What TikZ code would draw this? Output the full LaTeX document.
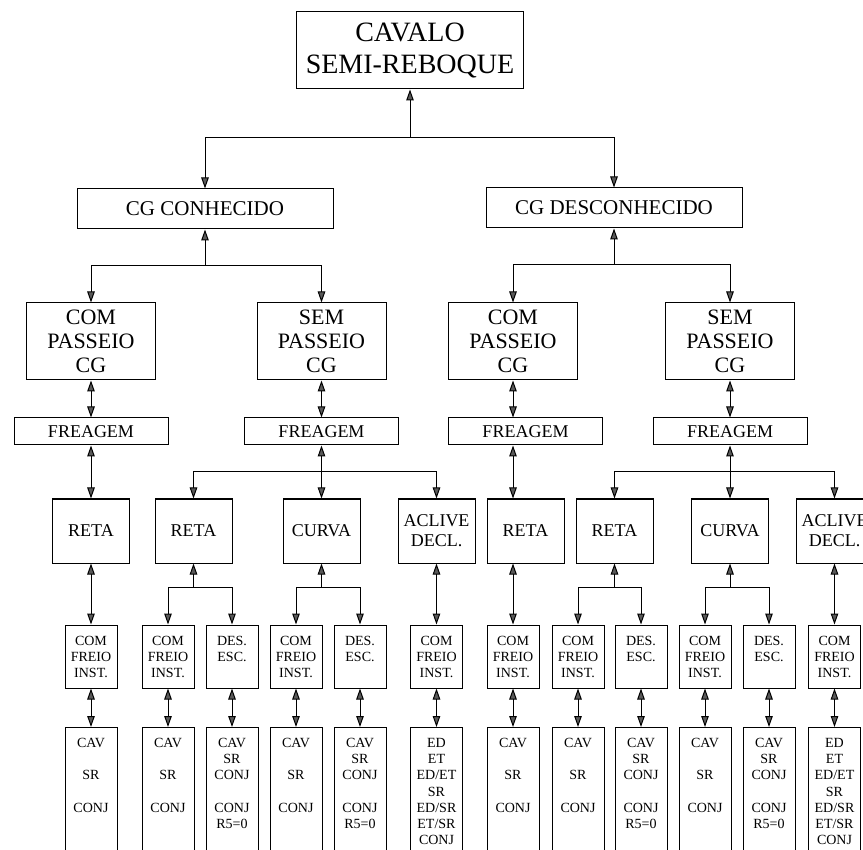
\documentclass[tikz,border=0pt]{standalone}
\usepackage{fontspec}
\setmainfont{Liberation Serif}
\usetikzlibrary{arrows.meta}

\tikzset{
  caixa/.style={draw, line width=1pt, inner sep=1pt, align=center},
  seta/.style={line width=1pt, -{Triangle[length=11pt,width=7.5pt,fill=black!65]}},
  seta2/.style={line width=1pt, {Triangle[length=11pt,width=7.5pt,fill=black!65]}-{Triangle[length=11pt,width=7.5pt,fill=black!65]}},
  medio/.style={caixa, minimum width=129pt, minimum height=77pt, font=\fontsize{22}{24}\selectfont},
  frea/.style={caixa, minimum width=154pt, minimum height=27pt, font=\fontsize{18}{20}\selectfont},
  via/.style={caixa, minimum width=77pt, minimum height=64pt, font=\fontsize{18}{20}\selectfont},
  freio/.style={caixa, minimum width=52pt, minimum height=63pt, font=\fontsize{14}{16}\selectfont},
  folhabox/.style={draw, line width=1pt, anchor=north, inner xsep=1pt, inner ysep=10.5pt, font=\fontsize{14}{16.3}\selectfont}
}

\newcommand{\folha}[1]{\parbox[t][140pt][t]{50pt}{\centering #1}}
\newcommand{\comfreio}{COM\\FREIO\\INST.}
\newcommand{\desesc}{DES.\\ESC.\\\phantom{INST.}}
\newcommand{\folhaA}{\folha{CAV\\[16.3pt]SR\\[16.3pt]CONJ}}
\newcommand{\folhaB}{\folha{CAV\\SR\\CONJ\\[16.3pt]CONJ\\R5=0}}
\newcommand{\folhaC}{\folha{ED\\ET\\ED/ET\\SR\\ED/SR\\ET/SR\\CONJ}}

\begin{document}
\begin{tikzpicture}[x=1pt, y=-1pt]
  \useasboundingbox (0,0) rectangle (863,850);

  % Topo
  \node[caixa, minimum width=227pt, minimum height=77pt, font=\fontsize{28}{32}\selectfont] (topo) at (410,50.5) {CAVALO\\SEMI-REBOQUE};
  \node[caixa, minimum width=256pt, minimum height=40pt, font=\fontsize{21}{24}\selectfont] (cgc) at (205,209) {CG CONHECIDO};
  \node[caixa, minimum width=256pt, minimum height=40pt, font=\fontsize{21}{24}\selectfont] (cgd) at (614,208) {CG DESCONHECIDO};

  \coordinate (j0) at (410,138);
  \draw[seta] (j0) -- (topo);
  \draw[seta] (j0) -| (cgc);
  \draw[seta] (j0) -| (cgd);

  % Passeio CG
  \node[medio] (cp1) at (91,341.5) {COM\\PASSEIO\\CG};
  \node[medio] (sp1) at (321.5,341.5) {SEM\\PASSEIO\\CG};
  \node[medio] (cp2) at (513,341.5) {COM\\PASSEIO\\CG};
  \node[medio] (sp2) at (730,341.5) {SEM\\PASSEIO\\CG};

  \coordinate (j1) at (205,266);
  \coordinate (j2) at (614,265);
  \draw[seta] (j1) -- (cgc);
  \draw[seta] (j1) -| (cp1);
  \draw[seta] (j1) -| (sp1);
  \draw[seta] (j2) -- (cgd);
  \draw[seta] (j2) -| (cp2);
  \draw[seta] (j2) -| (sp2);

  % Freagem
  \node[frea] (fr1) at (91,431.5) {FREAGEM};
  \node[frea] (fr2) at (321.5,431.5) {FREAGEM};
  \node[frea] (fr3) at (525.5,431.5) {FREAGEM};
  \node[frea] (fr4) at (730,431.5) {FREAGEM};

  \draw[seta2] (cp1) -- (fr1);
  \draw[seta2] (sp1) -- (fr2);
  \draw[seta2] (cp2.south) -- (cp2.south |- fr3.north);
  \draw[seta2] (sp2) -- (fr4);

  % Reta, curva, aclive
  \node[via] (re1) at (91,531) {RETA};
  \node[via] (re2) at (193.5,531) {RETA};
  \node[via] (cu1) at (321.5,531) {CURVA};
  \node[via] (ac1) at (436.5,531) {ACLIVE\\DECL.};
  \node[via] (re3) at (525.5,531) {RETA};
  \node[via] (re4) at (614.5,531) {RETA};
  \node[via] (cu2) at (730,531) {CURVA};
  \node[via] (ac2) at (834.5,531) {ACLIVE\\DECL.};

  \draw[seta2] (fr1) -- (re1);
  \draw[seta2] (fr2) -- (cu1);
  \draw[seta2] (fr3.south -| cp2) -- (re3.north -| cp2);
  \draw[seta2] (fr4) -- (cu2);
  \coordinate (j3) at (321.5,472);
  \coordinate (j4) at (730,472);
  \draw[seta] (j3) -| (re2);
  \draw[seta] (j3) -| (ac1);
  \draw[seta] (j4) -| (re4);
  \draw[seta] (j4) -| (ac2);

  % Freio / desacoplamento e resultados
  \foreach \x/\txt/\res [count=\i] in {91/\comfreio/\folhaA, 168/\comfreio/\folhaA,
      232/\desesc/\folhaB, 296/\comfreio/\folhaA, 360/\desesc/\folhaB,
      436.5/\comfreio/\folhaC, 513/\comfreio/\folhaA, 578/\comfreio/\folhaA,
      641/\desesc/\folhaB, 705/\comfreio/\folhaA, 769/\desesc/\folhaB,
      834.5/\comfreio/\folhaC} {
    \node[freio] (b\i) at (\x,656.5) {\txt};
    \node[folhabox] (f\i) at (\x,727) {\res};
    \draw[seta2] (b\i) -- (f\i);
  }

  \draw[seta2] (re1) -- (b1);
  \draw[seta2] (ac1) -- (b6);
  \draw[seta2] (re3.south -| b7) -- (b7);
  \draw[seta2] (ac2) -- (b12);
  \coordinate (j5) at (193.5,587);
  \coordinate (j6) at (321.5,587);
  \coordinate (j7) at (614.5,587);
  \coordinate (j8) at (730,587);
  \draw[seta] (j5) -- (re2);
  \draw[seta] (j5) -| (b2);
  \draw[seta] (j5) -| (b3);
  \draw[seta] (j6) -- (cu1);
  \draw[seta] (j6) -| (b4);
  \draw[seta] (j6) -| (b5);
  \draw[seta] (j7) -- (re4);
  \draw[seta] (j7) -| (b8);
  \draw[seta] (j7) -| (b9);
  \draw[seta] (j8) -- (cu2);
  \draw[seta] (j8) -| (b10);
  \draw[seta] (j8) -| (b11);
\end{tikzpicture}
\end{document}
